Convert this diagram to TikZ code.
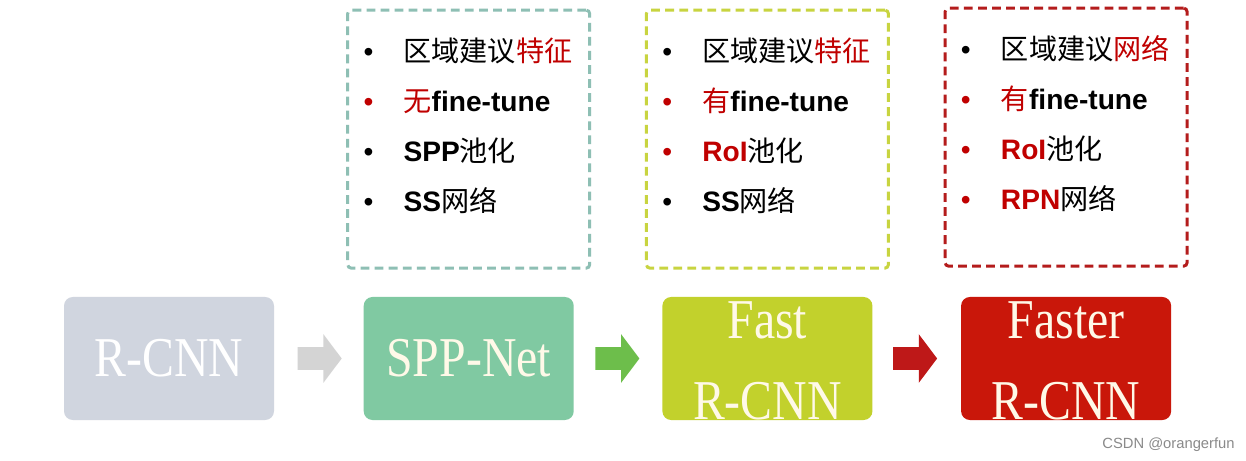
\documentclass[tikz,border=0pt]{standalone}
\usepackage{fontspec}
\setmainfont{Liberation Serif}
\newfontfamily\cjk{Noto Sans CJK SC}
\newfontfamily\lsans{Liberation Sans}
\newfontfamily\titlefont[FakeStretch=0.85]{Liberation Serif}
\usepackage{tikz}
\usetikzlibrary{shapes.arrows,positioning,calc}
\usepackage{xcolor}
\definecolor{slate}{HTML}{D0D5DF}
\definecolor{slatearrow}{HTML}{D4D4D4}
\definecolor{mint}{HTML}{80C9A2}
\definecolor{mintarrow}{HTML}{6DBE4B}
\definecolor{lime}{HTML}{C2D12C}
\definecolor{crimson}{HTML}{C9170A}
\definecolor{crimsonarrow}{HTML}{BE1818}
\definecolor{mintline}{HTML}{8EBFB4}
\definecolor{limeline}{HTML}{C8D440}
\definecolor{crimsonline}{HTML}{B41C1C}
\definecolor{hired}{HTML}{C00000}
\definecolor{cream}{HTML}{FFF9E8}
\definecolor{markgray}{HTML}{8A8A8A}

\newcommand{\zhs}[1]{{\cjk #1}}
\newcommand{\ens}[1]{{\lsans\bfseries #1}}
\newcommand{\hl}[1]{\textcolor{hired}{#1}}
\newcommand{\bul}[1]{\makebox[0.8cm][l]{\textcolor{#1}{\lsans\textbullet}}}

\tikzset{
  stage/.style={rounded corners=5pt, minimum width=4.2cm, minimum height=2.46cm, inner sep=0pt},
  stagetext/.style={font=\titlefont\fontsize{32pt}{46pt}\selectfont, text=cream, align=center, inner sep=0pt},
  blockarrow/.style={single arrow, single arrow head extend=0.26cm, single arrow tip angle=106,
    minimum height=0.88cm, minimum width=0.96cm, inner sep=0pt},
  notebox/.style={line width=1.7pt, dash pattern=on 5pt off 3pt, rounded corners=2pt,
    minimum width=4.84cm, minimum height=5.16cm, inner sep=0pt},
  itemline/.style={anchor=base west, font=\fontsize{16pt}{19pt}\selectfont, inner sep=0pt}
}

\begin{document}
\begin{tikzpicture}
  \path[fill=white, use as bounding box] (0,0) rectangle (24.92,-9.22);

  % stages
  \node[stage, fill=slate] (rcnn) at (3.38,-7.17) {};
  \node[stage, fill=mint] (spp) [right=1.78cm of rcnn] {};
  \node[stage, fill=lime] (fast) [right=1.76cm of spp] {};
  \node[stage, fill=crimson] (faster) [right=1.76cm of fast] {};

  \node[stagetext, text=white] (rcnntext) at (rcnn) {R-CNN};
  \node[stagetext] (spptext) at (spp) {SPP-Net};
  \node[stagetext] (fasttext) at ($(fast)+(0,-0.04)$) {Fast\\R-CNN};
  \node[stagetext] (fastertext) at ($(faster)+(0,-0.04)$) {Faster\\R-CNN};

  % arrows between stages
  \node[blockarrow, fill=slatearrow] (a1) [right=0.46cm of rcnn] {\rule{0pt}{0.44cm}};
  \node[blockarrow, fill=mintarrow] (a2) [right=0.42cm of spp] {\rule{0pt}{0.44cm}};
  \node[blockarrow, fill=crimsonarrow] (a3) [right=0.40cm of fast] {\rule{0pt}{0.44cm}};

  % dashed notes
  \node[notebox, draw=mintline] (note1) [above=0.54cm of spp] {};
  \node[notebox, draw=limeline] (note2) [above=0.54cm of fast] {};
  \node[notebox, draw=crimsonline] (note3) [above=0.58cm of faster] {};

  \foreach \bc/\txt [count=\i] in {
      black/{\zhs{区域建议\hl{特征}}},
      hired/{\zhs{\hl{无}}\ens{fine-tune}},
      black/{\ens{SPP}\zhs{池化}},
      black/{\ens{SS}\zhs{网络}}}
    \node[itemline] (n1l\i) at ($(note1.north west)+(0.34,{-0.06-\i})$) {\bul{\bc}\txt};

  \foreach \bc/\txt [count=\i] in {
      black/{\zhs{区域建议\hl{特征}}},
      hired/{\zhs{\hl{有}}\ens{fine-tune}},
      hired/{\ens{\hl{RoI}}\zhs{池化}},
      black/{\ens{SS}\zhs{网络}}}
    \node[itemline] (n2l\i) at ($(note2.north west)+(0.34,{-0.06-\i})$) {\bul{\bc}\txt};

  \foreach \bc/\txt [count=\i] in {
      black/{\zhs{区域建议\hl{网络}}},
      hired/{\zhs{\hl{有}}\ens{fine-tune}},
      hired/{\ens{\hl{RoI}}\zhs{池化}},
      hired/{\ens{\hl{RPN}}\zhs{网络}}}
    \node[itemline] (n3l\i) at ($(note3.north west)+(0.34,{-0.06-\i})$) {\bul{\bc}\txt};

  \node[font=\lsans\fontsize{8.4pt}{10pt}\selectfont, text=markgray, anchor=base east, inner sep=0pt]
    (mark) at (24.7,-8.96) {CSDN @orangerfun};
\end{tikzpicture}
\end{document}
